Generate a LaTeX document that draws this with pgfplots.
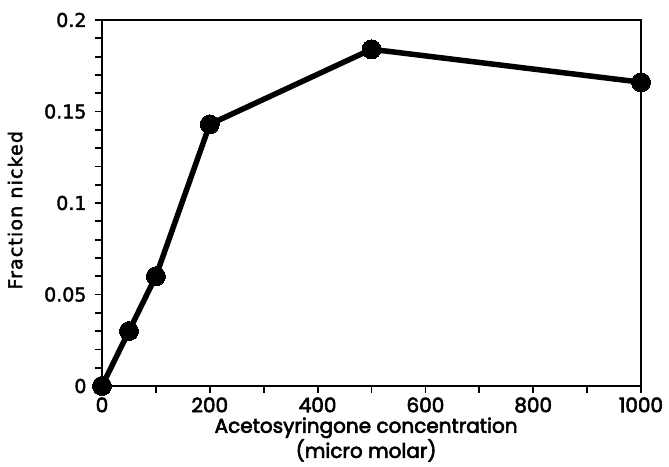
\documentclass[border=0pt]{standalone}
\usepackage{fontspec}
\setmainfont{Poppins}
\newfontfamily\pop{Poppins}[FakeBold=3]
\newfontfamily\dv{DejaVu Sans}[FakeBold=2]
\newfontfamily\dvw{DejaVu Sans}[FakeBold=2, LetterSpace=6]
\usepackage{pgfplots}
\pgfplotsset{compat=1.18}
\begin{document}
\begin{tikzpicture}
\begin{axis}[
  scale only axis,
  width=539pt, height=366pt,
  xmin=0, xmax=1000, ymin=0, ymax=0.2,
  axis line style={line width=2pt},
  every tick/.style={line width=1.8pt, black},
  tick align=outside,
  tick pos=left,
  major tick length=7pt,
  minor tick length=7pt,
  xtick={0,200,400,600,800,1000},
  xticklabels={0,200,400,600,800,1000},
  minor xtick={100,300,500,700,900},
  ytick={0,0.05,0.1,0.15,0.2},
  yticklabels={0,0.05,0.1,0.15,0.2},
  minor ytick={0.01,0.02,0.03,0.04,0.06,0.07,0.08,0.09,0.11,0.12,0.13,0.14,0.16,0.17,0.18,0.19},
  xticklabel style={font=\pop\fontsize{20}{20}\selectfont, yshift=-1pt},
  yticklabel style={font=\dv\fontsize{19}{19}\selectfont, xshift=-5pt},
  xlabel={Acetosyringone concentration\\(micro molar)},
  xlabel style={font=\pop\fontsize{20}{22}\selectfont, align=center, at={(axis description cs:0.49,0)}, anchor=north, yshift=-28pt},
  ylabel={Fraction nicked},
  ylabel style={font=\dvw\fontsize{19}{19}\selectfont, at={(axis description cs:0,0.48)}, anchor=south, yshift=76pt},
]
\addplot[line width=5.5pt, black, line join=round, mark=*, mark size=9.5pt, mark options={line width=0pt, fill=black}]
  coordinates {(0,0) (50,0.030) (100,0.060) (200,0.143) (500,0.184) (1000,0.166)};
\path (rel axis cs:0,0) coordinate (o);
\end{axis}
\pgfresetboundingbox
\path (o) ++(-102pt,-80pt) rectangle ++(669pt,466pt);
\end{tikzpicture}
\end{document}
